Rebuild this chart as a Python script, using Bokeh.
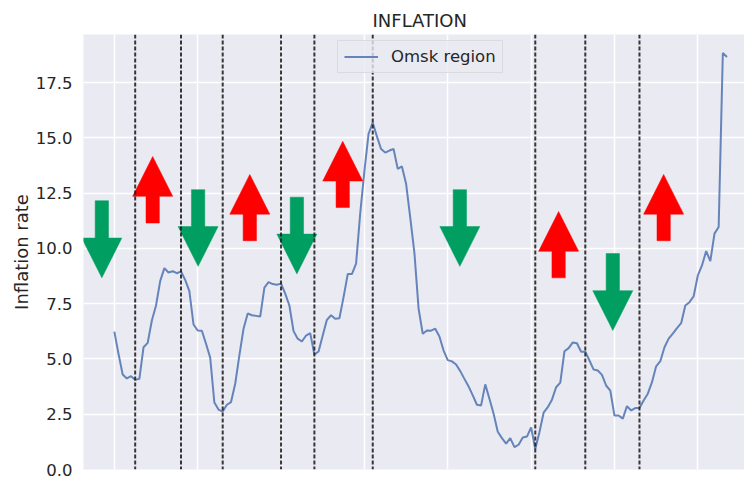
from bokeh.plotting import figure
from bokeh.models import Range1d, FixedTicker, Span, Legend, LegendItem, LabelSet, ColumnDataSource
from bokeh.embed import file_html
from bokeh.resources import INLINE

inflation = [6.24, 5.23, 4.3, 4.12, 4.22, 4.06, 4.1, 5.53, 5.73, 6.74,
             7.42, 8.52, 9.11, 8.91, 8.97, 8.88, 8.96, 8.58, 8.07, 6.56,
             6.29, 6.28, 5.69, 5.06, 3.03, 2.71, 2.62, 2.93, 3.05, 3.88,
             5.16, 6.37, 7.06, 6.98, 6.95, 6.92, 8.23, 8.48, 8.39, 8.36,
             8.41, 7.96, 7.42, 6.26, 5.92, 5.79, 6.06, 6.17, 5.2, 5.34,
             6.06, 6.77, 6.98, 6.82, 6.84, 7.8, 8.84, 8.84, 9.31, 11.6,
             13.5, 15.19, 15.69, 15.07, 14.5, 14.34, 14.43, 14.5, 13.6, 13.71,
             12.93, 11.4, 9.8, 7.28, 6.14, 6.29, 6.28, 6.37, 6.02, 5.38,
             4.95, 4.89, 4.75, 4.45, 4.1, 3.76, 3.35, 2.93, 2.9, 3.85,
             3.2, 2.52, 1.71, 1.42, 1.17, 1.42, 1.01, 1.12, 1.45, 1.49,
             1.9, 0.94, 1.69, 2.57, 2.82, 3.16, 3.72, 3.93, 5.35, 5.49,
             5.75, 5.71, 5.33, 5.33, 4.93, 4.52, 4.48, 4.28, 3.8, 3.57,
             2.44, 2.44, 2.3, 2.87, 2.67, 2.78, 2.78, 3.12, 3.43, 3.95,
             4.67, 4.9, 5.53, 5.92, 6.15, 6.4, 6.62, 7.42, 7.57, 7.84,
             8.78, 9.23, 9.88, 9.43, 10.67, 10.97, 18.84, 18.66]
months = list(range(len(inflation)))
breaks = [5, 16, 26, 40, 48, 62, 101, 113, 126]

up_x = [9.2, 32.5, 54.8, 106.6, 131.8]
up_tail = [11.15, 10.35, 11.85, 8.67, 10.35]
up_tip = [14.16, 13.35, 14.85, 11.67, 13.35]

down_x = [-3.0, 20.1, 43.8, 82.9, 119.6]
down_tail = [12.16, 12.66, 12.32, 12.66, 9.77]
down_tip = [8.67, 9.19, 8.85, 9.19, 6.29]

x_ticks = [0, 20, 40, 60, 80, 100, 120, 140]
x_tick_labels = ["0", "20", "40", "60", "80", "100", "120", "140"]
y_ticks = [0.0, 2.5, 5.0, 7.5, 10.0, 12.5, 15.0, 17.5]
y_tick_labels = ["0.0", "2.5", "5.0", "7.5", "10.0", "12.5", "15.0", "17.5"]

TEXT = "#262626"
BG = "#EAEAF2"
FONT = "DejaVu Sans"
BODY_W, HEAD_W, HEAD_L = 3.2, 9.6, 1.8


def arrow_polys(xs, tails, tips):
    px, py = [], []
    for x, t, h in zip(xs, tails, tips):
        sign = 1 if h > t else -1
        base = h - sign * HEAD_L
        px.append([x - BODY_W / 2, x - BODY_W / 2, x - HEAD_W / 2, x, x + HEAD_W / 2, x + BODY_W / 2, x + BODY_W / 2])
        py.append([t, base, base, h, base, base, t])
    return px, py


p = figure(width=744, height=486, output_backend="svg", toolbar_location=None,
           x_range=Range1d(-7.4, 151.2), y_range=Range1d(0, 19.68),
           min_border_left=83, min_border_right=0, min_border_top=34, min_border_bottom=17,
           background_fill_color=BG, border_fill_color="white", outline_line_color=None)

p.title.text = "INFLATION"
p.title.align = "left"
p.title.offset = 289
p.title.standoff = 7
p.title.text_font = FONT
p.title.text_font_size = "18px"
p.title.text_font_style = "normal"
p.title.text_color = TEXT

line = p.line(months, inflation, line_color="#4C72B0", line_width=2, line_alpha=0.85)

for b in breaks:
    p.add_layout(Span(location=b, dimension="height", line_color="#222222", line_width=2,
                      line_dash="4 2", line_alpha=0.9, level="glyph"))

ux, uy = arrow_polys(up_x, up_tail, up_tip)
p.patches(ux, uy, fill_color="#FF0000", line_color="#FF0000", line_width=0.5)
dx, dy = arrow_polys(down_x, down_tail, down_tip)
p.patches(dx, dy, fill_color="#009E60", line_color="#009E60", line_width=0.5)

yax = p.yaxis[0]
yax.axis_line_color = None
yax.major_tick_line_color = None
yax.minor_tick_line_color = None
yax.major_label_text_font = FONT
yax.major_label_text_font_size = "16.5px"
yax.major_label_text_color = TEXT
yax.ticker = FixedTicker(ticks=y_ticks)
yax.major_label_overrides = dict(zip(y_ticks, y_tick_labels))
yax.major_label_standoff = 5
yax.axis_label = "Inflation rate"
yax.axis_label_text_font = FONT
yax.axis_label_text_font_size = "18px"
yax.axis_label_text_font_style = "normal"
yax.axis_label_text_color = TEXT
yax.axis_label_standoff = 1

p.xaxis[0].ticker = FixedTicker(ticks=x_ticks)
p.xaxis[0].visible = False
p.xgrid[0].ticker = FixedTicker(ticks=x_ticks)

x_label_source = ColumnDataSource(dict(x=x_ticks, y=[0] * len(x_ticks), text=x_tick_labels))
p.add_layout(LabelSet(x="x", y="y", text="text", source=x_label_source, y_offset=-10,
                      text_align="center", text_baseline="middle", text_font=FONT,
                      text_font_size="16.5px", text_color=TEXT))

p.xgrid.grid_line_color = "white"
p.ygrid.grid_line_color = "white"
p.xgrid.grid_line_width = 1.5
p.ygrid.grid_line_width = 1.5

legend = Legend(items=[LegendItem(label="Omsk region", renderers=[line])],
                location=(254, 396), margin=0, padding=6, glyph_width=34, glyph_height=19,
                label_standoff=13, label_text_font=FONT, label_text_font_size="16.5px",
                label_text_color=TEXT, background_fill_color=BG, background_fill_alpha=0.8,
                border_line_color="#CCCCCC", border_line_width=1)
p.add_layout(legend)

open("out.html", "w").write(file_html(p, INLINE))
